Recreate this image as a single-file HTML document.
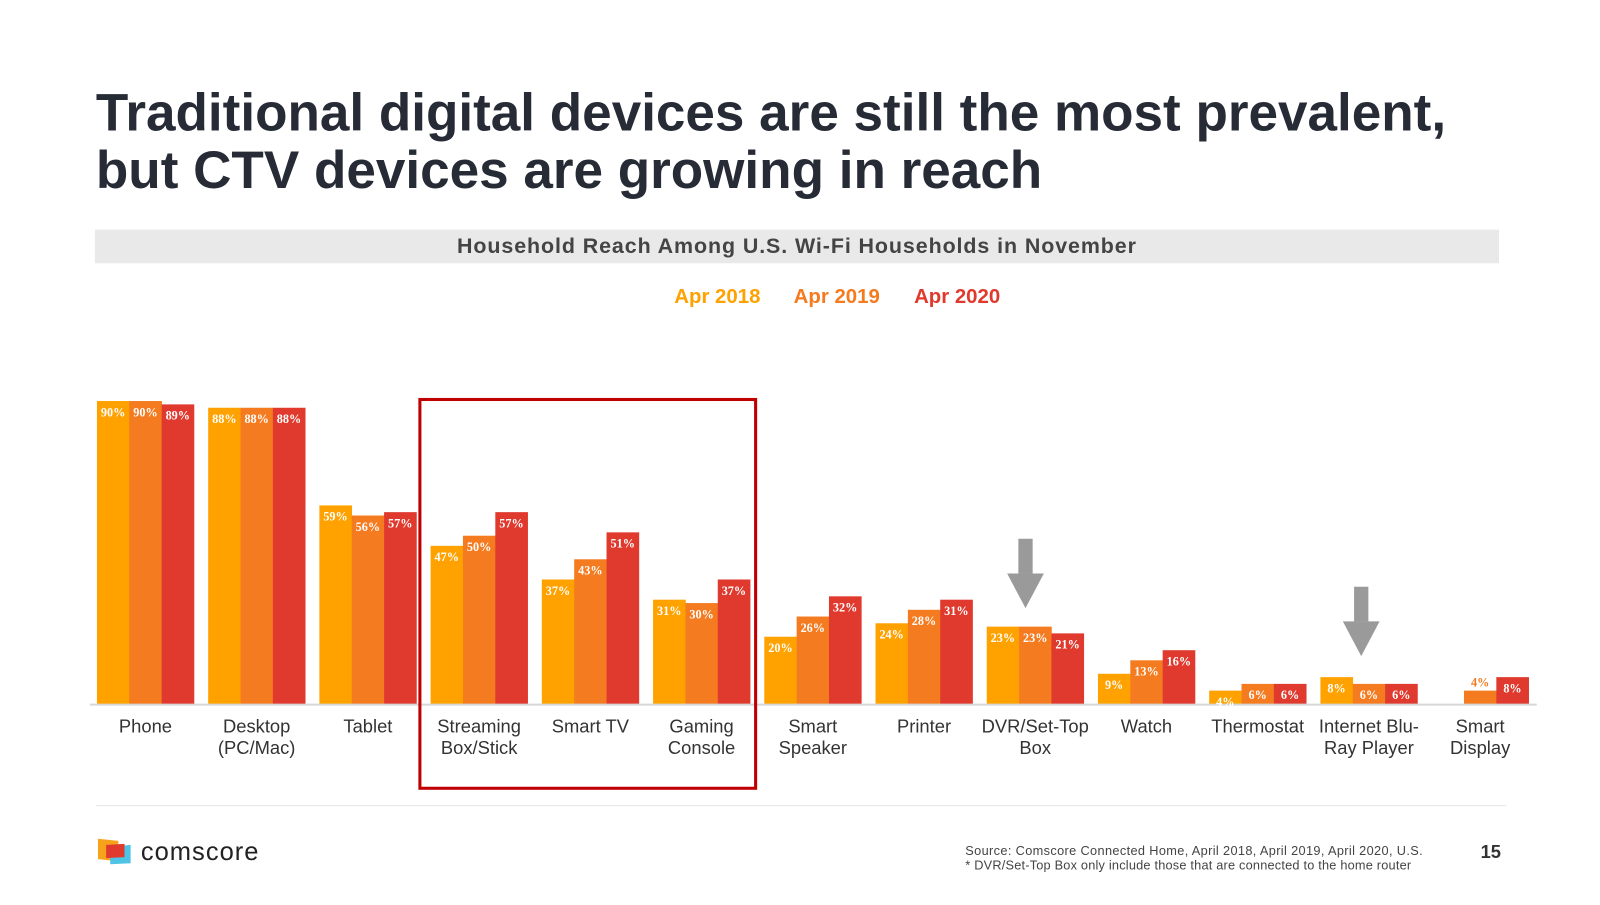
<!DOCTYPE html>
<html><head><meta charset="utf-8"><style>
body{margin:0;background:#fff;width:1600px;height:900px;overflow:hidden;font-family:"Liberation Sans",sans-serif}
</style></head><body>
<svg width="1600" height="900" viewBox="0 0 1568 882" xmlns="http://www.w3.org/2000/svg" font-family="Liberation Sans, sans-serif">
<text x="94" y="128" font-size="52" font-weight="bold" fill="#262b36" letter-spacing="0">Traditional digital devices are still the most prevalent,</text>
<text x="94" y="184" font-size="52" font-weight="bold" fill="#262b36" letter-spacing="0">but CTV devices are growing in reach</text>
<rect x="93" y="225" width="1376" height="33" fill="#e9e9e9"/>
<text x="781" y="248" font-size="21" font-weight="bold" fill="#444" text-anchor="middle" letter-spacing="0.9">Household Reach Among U.S. Wi-Fi Households in November</text>
<g font-size="20" font-weight="bold">
<text x="703" y="297" text-anchor="middle" fill="#ffa200">Apr 2018</text>
<text x="820" y="297" text-anchor="middle" fill="#f47b20">Apr 2019</text>
<text x="938" y="297" text-anchor="middle" fill="#e03a2f">Apr 2020</text>
</g>
<g id="bars"></g>
<line x1="88" y1="690.5" x2="1506" y2="690.5" stroke="#d6d6d6" stroke-width="2"/>
<g id="labels"></g>
<rect x="411.5" y="391.5" width="329" height="381" fill="none" stroke="#c00000" stroke-width="3"/>
<g fill="#9a9a9a"><rect x="998" y="528" width="14" height="34"/><polygon points="987,562 1023,562 1005,596"/></g>
<g fill="#9a9a9a"><rect x="1327" y="575" width="14" height="34"/><polygon points="1316,609 1352,609 1334,643"/></g>
<line x1="94" y1="789.5" x2="1476" y2="789.5" stroke="#e4e4e4" stroke-width="1"/>
<g>
<polygon points="96,822 116,824 116,844 96,842" fill="#f7a21b"/>
<polygon points="108,830 128,828 128,846 108,847" fill="#4dc3e6"/>
<polygon points="104,828 122,827 122,840 104,841" fill="#e03a2f"/>
<text x="138" y="843" font-size="25" fill="#222" letter-spacing="1">comscore</text>
</g>
<text x="946" y="838" font-size="12.5" fill="#444" letter-spacing="0.35">Source: Comscore Connected Home, April 2018, April 2019, April 2020, U.S.</text>
<text x="946" y="852" font-size="12.5" fill="#444" letter-spacing="0.2">* DVR/Set-Top Box only include those that are connected to the home router</text>
<text x="1471" y="841" font-size="18" font-weight="bold" fill="#333" text-anchor="end">15</text>
</svg>
<script>
const categories=[["Phone"],["Desktop","(PC/Mac)"],["Tablet"],["Streaming","Box/Stick"],["Smart TV"],["Gaming","Console"],["Smart","Speaker"],["Printer"],["DVR/Set-Top","Box"],["Watch"],["Thermostat"],["Internet Blu-","Ray Player"],["Smart","Display"]];
const s2018=[90,88,59,47,37,31,20,24,23,9,4,8,null];
const s2019=[90,88,56,50,43,30,26,28,23,13,6,6,4];
const s2020=[89,88,57,57,51,37,32,31,21,16,6,6,8];
const seriesNames=["2018","2019","2020"];
const colors=["#ffa200","#f47b20","#e03a2f"];
const NS="http://www.w3.org/2000/svg";
const base=690, perPct=3.3, x0=95, groupW=109.0, barW=31.7;
const y=v=>base-v*perPct;
const bars=document.getElementById('bars'), labels=document.getElementById('labels');
[s2018,s2019,s2020].forEach((ser,si)=>{
  ser.forEach((v,ci)=>{
    if(v==null)return;
    const x=x0+ci*groupW+si*barW;
    const r=document.createElementNS(NS,'rect');
    
    
    r.setAttribute('x',x);r.setAttribute('y',y(v));r.setAttribute('width',barW+0.3);r.setAttribute('height',v*perPct);r.setAttribute('fill',colors[si]);
    bars.appendChild(r);
    const t=document.createElementNS(NS,'text');
    
    
    const small=v*perPct<14 && ci===12;
    t.setAttribute('x',x+barW/2);t.setAttribute('y',small?y(v)-4:y(v)+15);
    t.setAttribute('text-anchor','middle');t.setAttribute('font-size','12');t.setAttribute('font-weight','bold');
    t.setAttribute('font-family','Liberation Serif, serif');
    t.setAttribute('fill',small?colors[si]:'#fff');
    t.textContent=v+'%';
    labels.appendChild(t);
  });
});
categories.forEach((lines,ci)=>{
  const cx=x0+ci*groupW+barW*1.5;
  lines.forEach((ln,li)=>{
    const t=document.createElementNS(NS,'text');
    
    
    t.setAttribute('x',cx);t.setAttribute('y',718+li*21);
    t.setAttribute('text-anchor','middle');t.setAttribute('font-size','18');t.setAttribute('fill','#333');
    t.textContent=ln;labels.appendChild(t);
  });
});
</script>
</body></html>
